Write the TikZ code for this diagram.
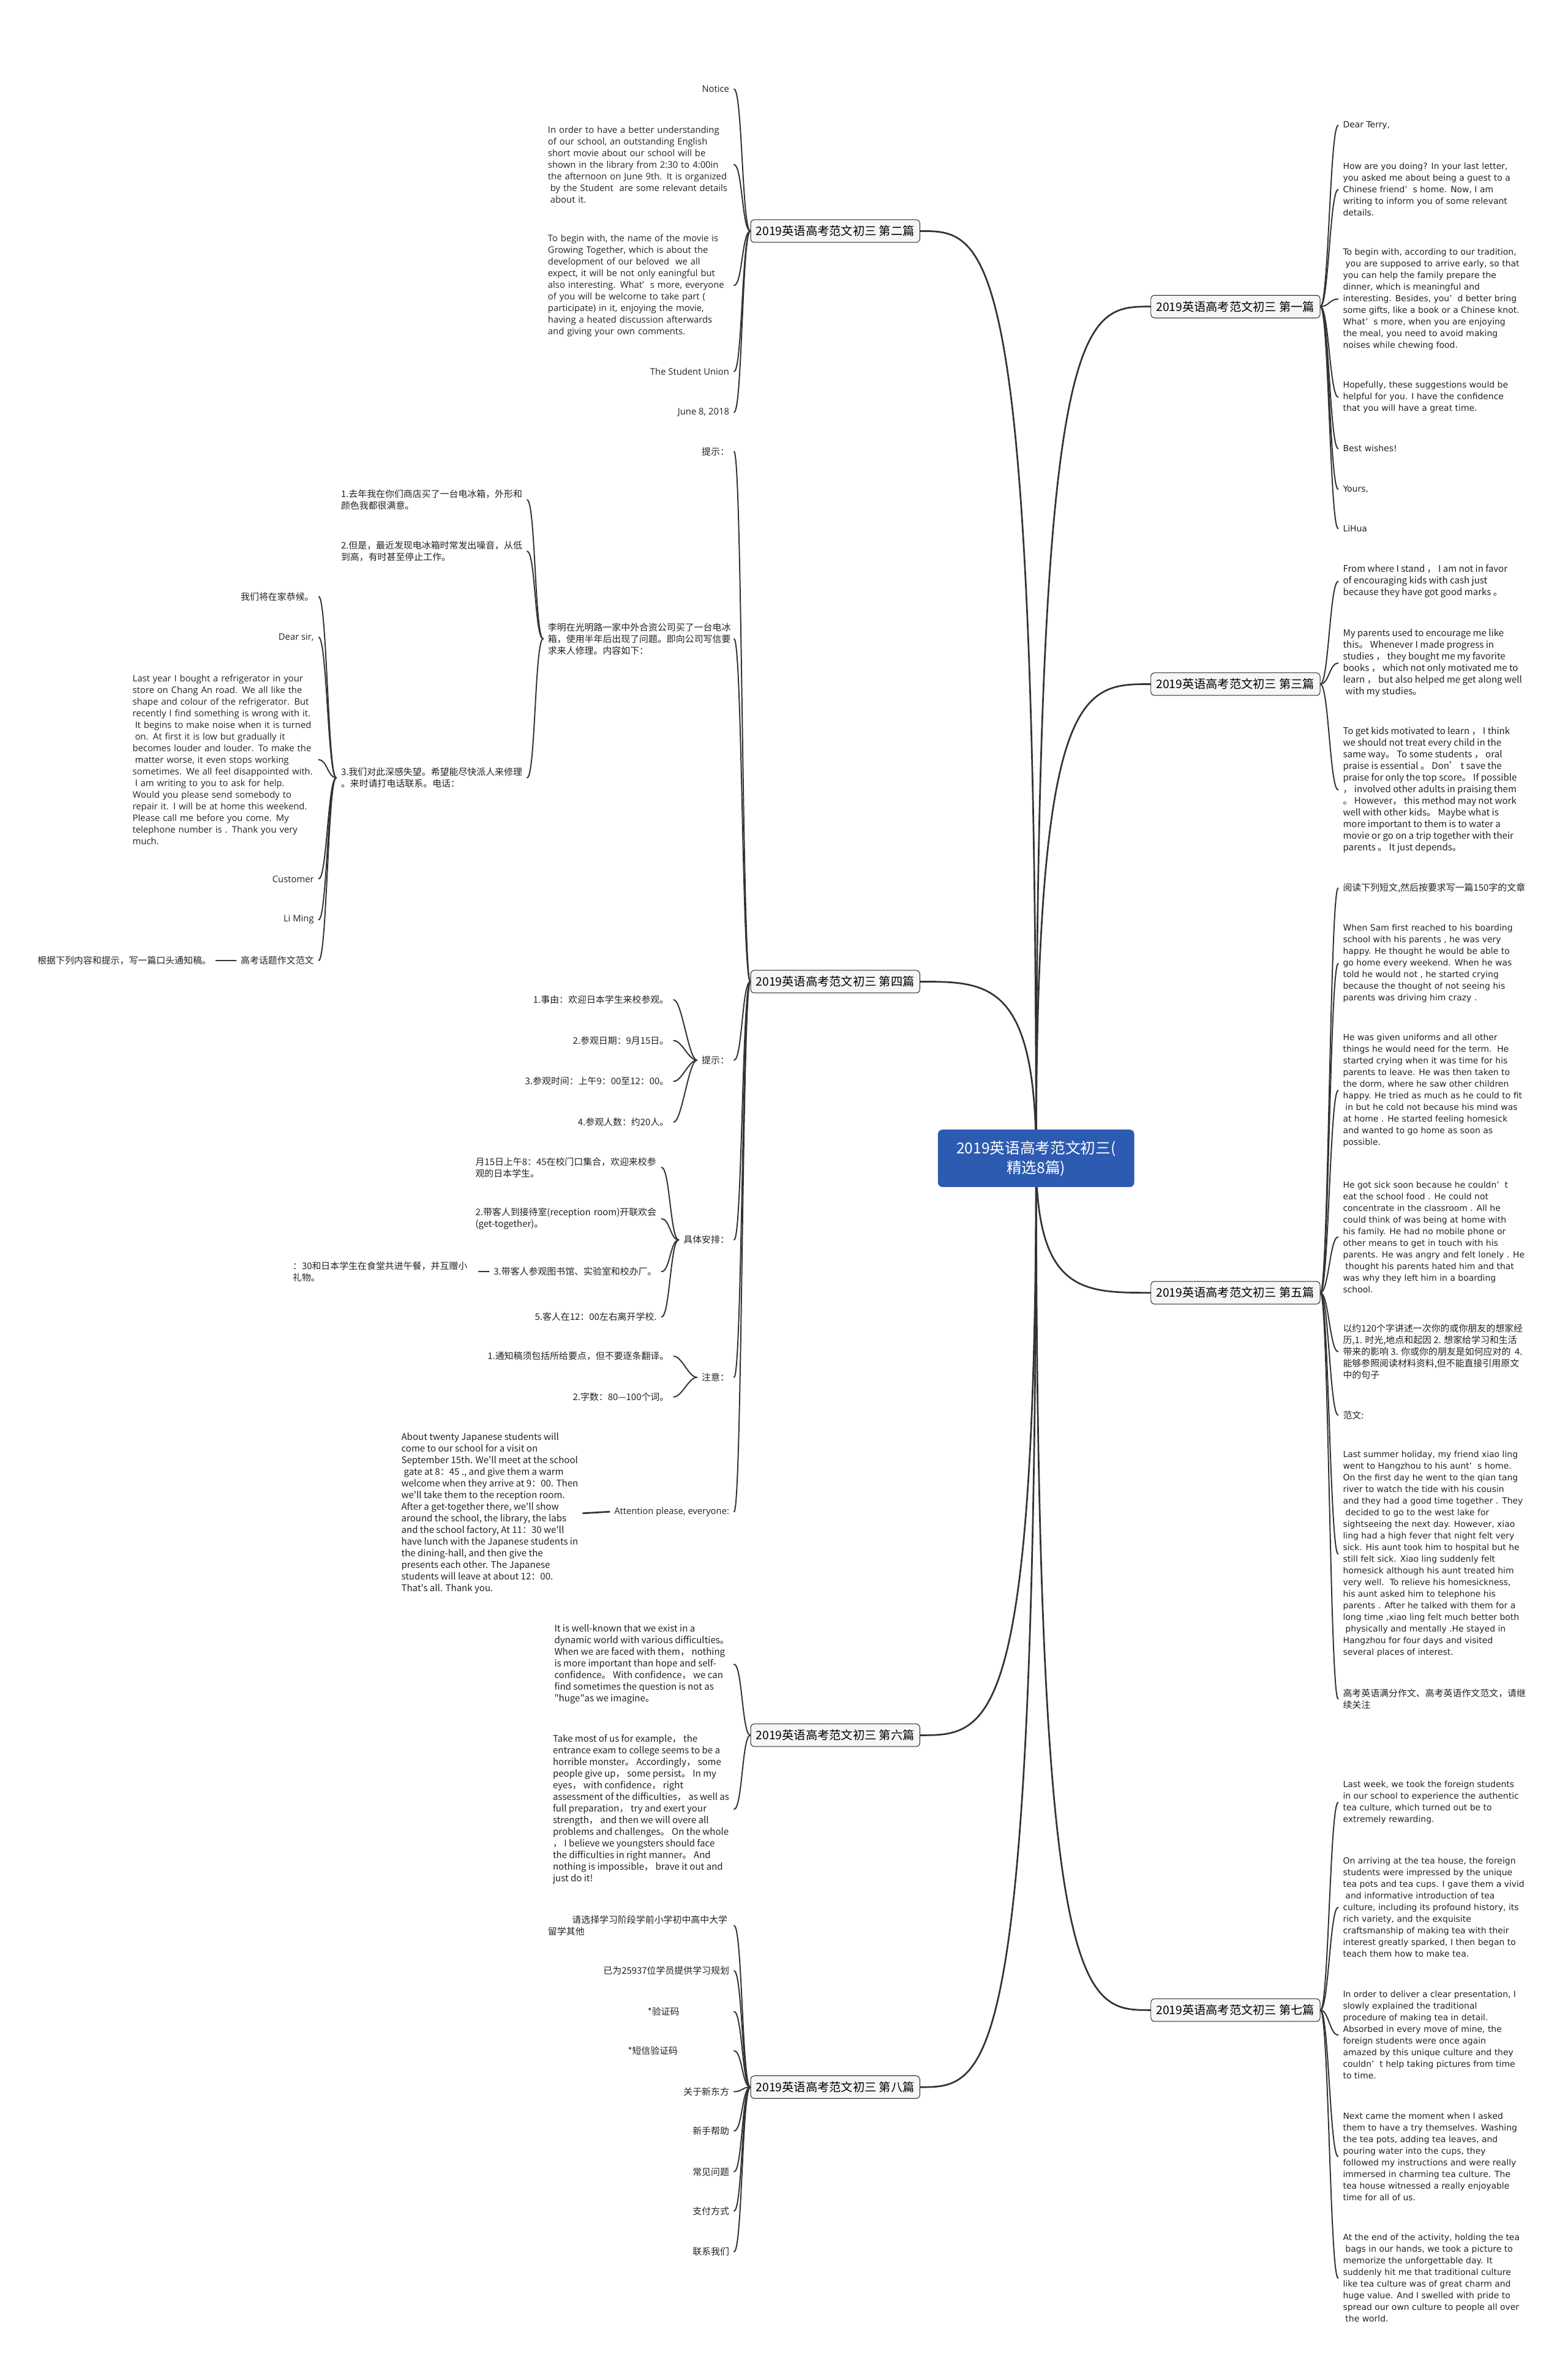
\documentclass[tikz,border=0pt]{standalone}
\usepackage{fontspec}
\setmainfont{Open Sans}
\newfontfamily\cjk{Noto Sans CJK SC}
\newfontfamily\mmwide{DejaVu Sans}
\usetikzlibrary{backgrounds,calc}
\definecolor{mmink}  {HTML}{222222}
\definecolor{mmline} {HTML}{333333}
\definecolor{mmroot} {HTML}{2D5BB1}
\definecolor{mmpaper}{HTML}{F6F6F6}
\newcommand\mmsp{\hspace*{1.6pt}}
\tikzset{
  mmcentre/.style={fill=mmroot, text=white, rounded corners=3pt,
                   minimum width=130pt, minimum height=38pt, align=center,
                   font=\cjk\fontsize{10}{13}\selectfont},
  mmtopic/.style={draw=mmink, fill=mmpaper, rounded corners=2.5pt, minimum width=112pt,
                  minimum height=15pt, inner xsep=2pt, inner ysep=0pt,
                  font=\cjk\fontsize{7.8}{9}\selectfont},
  mmleaf/.style={inner xsep=3pt, inner ysep=1pt, align=left, text=mmink,
                 font=\fontsize{6}{7.7}\selectfont},
  mmwideleaf/.style={mmleaf, font=\mmwide\fontsize{5.65}{7.7}\selectfont},
  mmzh/.style={mmleaf, font=\cjk\fontsize{6.05}{7.7}\selectfont},
  mmzhen/.style={mmleaf, font=\cjk\fontsize{6.1}{7.7}\selectfont},
  mmblock/.style={text width=120pt},
  mmL/.style={anchor=east},
  mmR/.style={anchor=west},
  mmlink/.style={draw=mmline, line width=1.1pt, line cap=round},
  mmsub/.style={draw=mmline, line width=0.8pt, line cap=round},
}

\begin{document}
\begin{tikzpicture}[x=1pt, y=-1pt]
  \useasboundingbox (0,0) rectangle (1038,1568);

  % centre and main topics
  \node[mmcentre] (C) at (686,767) {2019英语高考范文初三(\\精选8篇)};

  \node[mmtopic] (B2) at (553,153)  {2019英语高考范文初三 第二篇};
  \node[mmtopic] (B4) at (553,650)  {2019英语高考范文初三 第四篇};
  \node[mmtopic] (B6) at (553,1149) {2019英语高考范文初三 第六篇};
  \node[mmtopic] (B8) at (553,1382) {2019英语高考范文初三 第八篇};
  \node[mmtopic] (B1) at (818,203)  {2019英语高考范文初三 第一篇};
  \node[mmtopic] (B3) at (818,453)  {2019英语高考范文初三 第三篇};
  \node[mmtopic] (B5) at (818,856)  {2019英语高考范文初三 第五篇};
  \node[mmtopic] (B7) at (818,1331) {2019英语高考范文初三 第七篇};

  % second
  \node[mmleaf, mmL] (a1) at (486,59) {Notice};
  \node[mmleaf, mmblock, mmL] (a2) at (486,109) {In order to have a better understanding\\of our school, an outstanding English\\short movie about our school will be\\shown in the library from 2:30 to 4:00in\\the afternoon on June 9th. It is organized\\\mmsp by the Student\ \ are some relevant details\\\mmsp about it.};
  \node[mmleaf, mmblock, mmL] (a3) at (486,189) {To begin with, the name of the movie is\\Growing Together, which is about the\\development of our beloved\ \ we all\\expect, it will be not only eaningful but\\also interesting. What’\ \ s more, everyone\\of you will be welcome to take part (\\participate) in it, enjoying the movie,\\having a heated discussion afterwards\\and giving your own comments.};
  \node[mmleaf, mmL] (a4) at (486,246) {The Student Union};
  \node[mmleaf, mmL] (a5) at (486,273) {June 8, 2018};

  % fourth
  \node[mmzh, mmL] (b1) at (486,299) {提示：};
  \node[mmzh, mmblock, mmL] (b2) at (486,423) {李明在光明路一家中外合资公司买了一台电冰\\箱，使用半年后出现了问题。即向公司写信要\\求来人修理。内容如下：};
  \node[mmzh, mmblock, mmL] (b21) at (349,331) {1.去年我在你们商店买了一台电冰箱，外形和\\颜色我都很满意。};
  \node[mmzh, mmblock, mmL] (b22) at (349,365) {2.但是，最近发现电冰箱时常发出噪音，从低\\到高，有时甚至停止工作。};
  \node[mmzh, mmblock, mmL] (b23) at (349,515) {3.我们对此深感失望。希望能尽快派人来修理\\。来时请打电话联系。电话：};
  \node[mmzh, mmL] (c1) at (211,395) {我们将在家恭候。};
  \node[mmleaf, mmL] (c2) at (211,422) {Dear sir,};
  \node[mmleaf, mmblock, mmL] (c3) at (211,503) {Last year I bought a refrigerator in your\\store on Chang An road. We all like the\\shape and colour of the refrigerator. But\\recently I find something is wrong with it.\\\mmsp It begins to make noise when it is turned\\\mmsp on. At first it is low but gradually it\\becomes louder and louder. To make the\\\mmsp matter worse, it even stops working\\sometimes. We all feel disappointed with.\\\mmsp I am writing to you to ask for help.\\Would you please send somebody to\\repair it. I will be at home this weekend.\\Please call me before you come. My\\telephone number is . Thank you very\\much.};
  \node[mmleaf, mmL] (c4) at (211,582) {Customer};
  \node[mmleaf, mmL] (c5) at (211,609) {Li Ming};
  \node[mmzh, mmL] (c6) at (211,636) {高考话题作文范文};
  \node[mmzh, mmL] (c61) at (143,636) {根据下列内容和提示，写一篇口头通知稿。};

  \node[mmzh, mmL] (b3) at (486,702) {提示：};
  \node[mmzh, mmL] (d1) at (446,662) {1.事由：欢迎日本学生来校参观。};
  \node[mmzh, mmL] (d2) at (446,689) {2.参观日期：9月15日。};
  \node[mmzh, mmL] (d3) at (446,716) {3.参观时间：上午9：00至12：00。};
  \node[mmzh, mmL] (d4) at (446,743) {4.参观人数：约20人。};

  \node[mmzh, mmL] (b4) at (486,821) {具体安排：};
  \node[mmzh, mmblock, mmL] (e1) at (438,773) {月15日上午8：45在校门口集合，欢迎来校参\\观的日本学生。};
  \node[mmzh, mmblock, mmL] (e2) at (438,807) {2.带客人到接待室(reception room)开联欢会\\(get-together)。};
  \node[mmzh, mmL] (e3) at (438,842) {3.带客人参观图书馆、实验室和校办厂。};
  \node[mmzh, mmblock, mmL] (e31) at (317,842) {：30和日本学生在食堂共进午餐，并互赠小\\礼物。};
  \node[mmzh, mmL] (e4) at (438,872) {5.客人在12：00左右离开学校.};

  \node[mmzh, mmL] (b5) at (486,912) {注意：};
  \node[mmzh, mmL] (f1) at (446,898) {1.通知稿须包括所给要点，但不要逐条翻译。};
  \node[mmzh, mmL] (f2) at (446,925) {2.字数：80—100个词。};

  \node[mmleaf, mmL] (b6) at (486,1001) {Attention please, everyone:};
  \node[mmzhen, mmL] (g1) at (386,1002) {About twenty Japanese students will\\come to our school for a visit on\\September 15th. We'll meet at the school\\\mmsp gate at 8：45 ., and give them a warm\\welcome when they arrive at 9：00. Then\\we'll take them to the reception room.\\After a get-together there, we'll show\\around the school, the library, the labs\\and the school factory, At 11：30 we'll\\have lunch with the Japanese students in\\the dining-hall, and then give the\\presents each other. The Japanese\\students will leave at about 12：00.\\That's all. Thank you.};

  % sixth
  \node[mmzhen, mmL] (h1) at (486,1102) {It is well-known that we exist in a\\dynamic world with various difficulties。\\When we are faced with them， nothing\\is more important than hope and self-\\confidence。 With confidence， we can\\find sometimes the question is not as\\"huge"as we imagine。};
  \node[mmzhen, mmL] (h2) at (486,1198) {Take most of us for example， the\\entrance exam to college seems to be a\\horrible monster。 Accordingly， some\\people give up， some persist。 In my\\eyes， with confidence， right\\assessment of the difficulties， as well as\\full preparation， try and exert your\\strength， and then we will overe all\\problems and challenges。 On the whole\\， I believe we youngsters should face\\the difficulties in right manner。 And\\nothing is impossible， brave it out and\\just do it!};

  % eighth
  \node[mmzh, mmblock, mmL] (i1) at (486,1275) {\hspace*{16pt}请选择学习阶段学前小学初中高中大学\\留学其他};
  \node[mmzh, mmL] (i2) at (486,1305) {已为25937位学员提供学习规划};
  \node[mmzh, mmL] (i3) at (486,1332) {*验证码\hspace*{33pt}};
  \node[mmzh, mmL] (i4) at (486,1358) {*短信验证码\hspace*{34pt}};
  \node[mmzh, mmL] (i5) at (486,1385) {关于新东方};
  \node[mmzh, mmL] (i6) at (486,1411) {新手帮助};
  \node[mmzh, mmL] (i7) at (486,1438) {常见问题};
  \node[mmzh, mmL] (i8) at (486,1464) {支付方式};
  \node[mmzh, mmL] (i9) at (486,1491) {联系我们};

  % first
  \node[mmwideleaf, mmR] (j1) at (886,83) {Dear Terry,};
  \node[mmwideleaf, mmR] (j2) at (886,125.5) {How are you doing? In your last letter,\\you asked me about being a guest to a\\Chinese friend’\ \ s home. Now, I am\\writing to inform you of some relevant\\details.};
  \node[mmwideleaf, mmR] (j3) at (886,198) {To begin with, according to our tradition,\\\mmsp you are supposed to arrive early, so that\\you can help the family prepare the\\dinner, which is meaningful and\\interesting. Besides, you’\ \ d better bring\\some gifts, like a book or a Chinese knot.\\What’\ \ s more, when you are enjoying\\the meal, you need to avoid making\\noises while chewing food.};
  \node[mmwideleaf, mmR] (j4) at (886,263) {Hopefully, these suggestions would be\\helpful for you. I have the confidence\\that you will have a great time.};
  \node[mmwideleaf, mmR] (j5) at (886,297) {Best wishes!};
  \node[mmwideleaf, mmR] (j6) at (886,324) {Yours,};
  \node[mmwideleaf, mmR] (j7) at (886,350) {LiHua};

  % third
  \node[mmzhen, mmR] (k1) at (886,385) {From where I stand ， I am not in favor\\of encouraging kids with cash just\\because they have got good marks 。};
  \node[mmzhen, mmR] (k2) at (886,439) {My parents used to encourage me like\\this。 Whenever I made progress in\\studies ， they bought me my favorite\\books ， which not only motivated me to\\learn ， but also helped me get along well\\\mmsp with my studies。};
  \node[mmzhen, mmR] (k3) at (886,523) {To get kids motivated to learn ， I think\\we should not treat every child in the\\same way。 To some students ， oral\\praise is essential 。 Don’\ t save the\\praise for only the top score。 If possible\\， involved other adults in praising them\\。 However， this method may not work\\well with other kids。 Maybe what is\\more important to them is to water a\\movie or go on a trip together with their\\parents 。 It just depends。};

  % fifth
  \node[mmzh, mmR] (l1) at (886,588) {阅读下列短文,然后按要求写一篇150字的文章};
  \node[mmwideleaf, mmR] (l2) at (886,638) {When Sam first reached to his boarding\\school with his parents , he was very\\happy. He thought he would be able to\\go home every weekend. When he was\\told he would not , he started crying\\because the thought of not seeing his\\parents was driving him crazy .};
  \node[mmwideleaf, mmR] (l3) at (886,722) {He was given uniforms and all other\\things he would need for the term.\ \ He\\started crying when it was time for his\\parents to leave. He was then taken to\\the dorm, where he saw other children\\happy. He tried as much as he could to fit\\\mmsp in but he cold not because his mind was\\at home . He started feeling homesick\\and wanted to go home as soon as\\possible.};
  \node[mmwideleaf, mmR] (l4) at (886,819) {He got sick soon because he couldn’\ \ t\\eat the school food . He could not\\concentrate in the classroom . All he\\could think of was being at home with\\his family. He had no mobile phone or\\other means to get in touch with his\\parents. He was angry and felt lonely . He\\\mmsp thought his parents hated him and that\\was why they left him in a boarding\\school.};
  \node[mmzh, mmR] (l5) at (886,895) {以约120个字讲述一次你的或你朋友的想家经\\历,1. 时光,地点和起因 2. 想家给学习和生活\\带来的影响 3. 你或你的朋友是如何应对的\ \ 4.\\能够参照阅读材料资料,但不能直接引用原文\\中的句子};
  \node[mmzh, mmR] (l6) at (886,937) {范文:};
  \node[mmwideleaf, mmR] (l7) at (886,1029) {Last summer holiday, my friend xiao ling\\went to Hangzhou to his aunt’\ \ s home.\\On the first day he went to the qian tang\\river to watch the tide with his cousin\\and they had a good time together . They\\\mmsp decided to go to the west lake for\\sightseeing the next day. However, xiao\\ling had a high fever that night felt very\\sick. His aunt took him to hospital but he\\still felt sick. Xiao ling suddenly felt\\homesick although his aunt treated him\\very well.\ \ To relieve his homesickness,\\his aunt asked him to telephone his\\parents . After he talked with them for a\\long time ,xiao ling felt much better both\\\mmsp physically and mentally .He stayed in\\Hangzhou for four days and visited\\several places of interest.};
  \node[mmzh, mmR] (l8) at (886,1125) {高考英语满分作文、高考英语作文范文，请继\\续关注};

  % seventh
  \node[mmwideleaf, mmR] (m1) at (886,1193.5) {Last week, we took the foreign students\\in our school to experience the authentic\\tea culture, which turned out be to\\extremely rewarding.};
  \node[mmwideleaf, mmR] (m2) at (886,1263) {On arriving at the tea house, the foreign\\students were impressed by the unique\\tea pots and tea cups. I gave them a vivid\\\mmsp and informative introduction of tea\\culture, including its profound history, its\\rich variety, and the exquisite\\craftsmanship of making tea with their\\interest greatly sparked, I then began to\\teach them how to make tea.};
  \node[mmwideleaf, mmR] (m3) at (886,1347.5) {In order to deliver a clear presentation, I\\slowly explained the traditional\\procedure of making tea in detail.\\Absorbed in every move of mine, the\\foreign students were once again\\amazed by this unique culture and they\\couldn’\ \ t help taking pictures from time\\to time.};
  \node[mmwideleaf, mmR] (m4) at (886,1428) {Next came the moment when I asked\\them to have a try themselves. Washing\\the tea pots, adding tea leaves, and\\pouring water into the cups, they\\followed my instructions and were really\\immersed in charming tea culture. The\\tea house witnessed a really enjoyable\\time for all of us.};
  \node[mmwideleaf, mmR] (m5) at (886,1508.5) {At the end of the activity, holding the tea\\\mmsp bags in our hands, we took a picture to\\memorize the unforgettable day. It\\suddenly hit me that traditional culture\\like tea culture was of great charm and\\huge value. And I swelled with pride to\\spread our own culture to people all over\\\mmsp the world.};

  \begin{scope}[on background layer]
    \fill[white] (0,0) rectangle (1038,1568);
    % centre to topics
    \foreach \t in {B2,B4,B6,B8}
      \draw[mmlink] (C.center) .. controls (C.center|-\t) and +(45,0) .. (\t.east);
    \foreach \t in {B1,B3,B5,B7}
      \draw[mmlink] (C.center) .. controls (C.center|-\t) and +(-45,0) .. (\t.west);
    % topics to leaves, left
    \foreach \p/\c in {B2/a1,B2/a2,B2/a3,B2/a4,B2/a5,
                       B4/b1,B4/b2,B4/b3,B4/b4,B4/b5,B4/b6,
                       b2/b21,b2/b22,b2/b23,
                       b23/c1,b23/c2,b23/c3,b23/c4,b23/c5,b23/c6,
                       b3/d1,b3/d2,b3/d3,b3/d4,
                       b4/e1,b4/e2,b4/e3,b4/e4,
                       b5/f1,b5/f2,
                       B6/h1,B6/h2,
                       B8/i1,B8/i2,B8/i3,B8/i4,B8/i5,B8/i6,B8/i7,B8/i8,B8/i9}
      \draw[mmsub] (\p.west) .. controls +(-5.5,0) and +(5.5,0) .. (\c.east);
    % topics to leaves, right
    \foreach \p/\c in {B1/j1,B1/j2,B1/j3,B1/j4,B1/j5,B1/j6,B1/j7,
                       B3/k1,B3/k2,B3/k3,
                       B5/l1,B5/l2,B5/l3,B5/l4,B5/l5,B5/l6,B5/l7,B5/l8,
                       B7/m1,B7/m2,B7/m3,B7/m4,B7/m5}
      \draw[mmsub] (\p.east) .. controls +(5.5,0) and +(-5.5,0) .. (\c.west);
    % single follow-on lines
    \draw[mmlink] (c6.west) -- (c61.east);
    \draw[mmlink] (e3.west) -- (e31.east);
    \draw[mmlink] (b6.west) -- (g1.east);
  \end{scope}
\end{tikzpicture}
\end{document}
